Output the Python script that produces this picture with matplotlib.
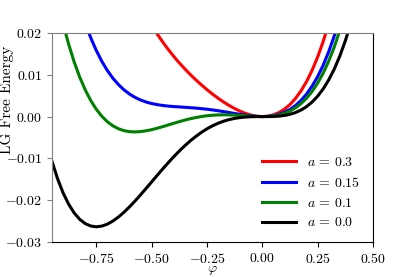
import matplotlib
matplotlib.use("Agg")
import matplotlib.pyplot as plt
from matplotlib.ticker import FuncFormatter

plt.rcParams['font.family'] = 'serif'
plt.rcParams['font.serif'] = ['cmr10', 'DejaVu Serif']
plt.rcParams['mathtext.fontset'] = 'cm'
plt.rcParams['axes.formatter.use_mathtext'] = True

# order parameter values
phi = [-0.95, -0.925, -0.9, -0.875, -0.85, -0.825, -0.8, -0.775, -0.75, -0.725,
       -0.7, -0.675, -0.65, -0.625, -0.6, -0.575, -0.55, -0.525, -0.5, -0.475,
       -0.45, -0.425, -0.4, -0.375, -0.35, -0.325, -0.3, -0.275, -0.25, -0.225,
       -0.2, -0.175, -0.15, -0.125, -0.1, -0.075, -0.05, -0.025, 0.0, 0.025,
       0.05, 0.075, 0.1, 0.125, 0.15, 0.175, 0.2, 0.225, 0.25, 0.275,
       0.3, 0.325, 0.35, 0.375, 0.4, 0.425, 0.45]

f_a03 = [0.12466, 0.11350, 0.10328, 0.09391, 0.08535, 0.07753, 0.07040, 0.06391, 0.05801, 0.05265,
         0.04778, 0.04336, 0.03935, 0.03571, 0.03240, 0.02940, 0.02666, 0.02416, 0.02188, 0.01978,
         0.01785, 0.01606, 0.01440, 0.01285, 0.01141, 0.01005, 0.00878, 0.00758, 0.00645, 0.00539,
         0.00440, 0.00349, 0.00266, 0.00192, 0.00128, 0.00075, 0.00035, 0.00009, 0.0, 0.00010,
         0.00041, 0.00096, 0.00178, 0.00289, 0.00435, 0.00617, 0.00840, 0.01108, 0.01426, 0.01797,
         0.02228, 0.02722, 0.03285, 0.03922, 0.04640, 0.05444, 0.06341]

f_a015 = [0.05697, 0.04933, 0.04253, 0.03649, 0.03116, 0.02648, 0.02240, 0.01886, 0.01582, 0.01322,
          0.01103, 0.00918, 0.00766, 0.00641, 0.00540, 0.00460, 0.00397, 0.00349, 0.00313, 0.00286,
          0.00266, 0.00251, 0.00240, 0.00231, 0.00222, 0.00213, 0.00203, 0.00190, 0.00176, 0.00159,
          0.00140, 0.00119, 0.00097, 0.00075, 0.00053, 0.00032, 0.00016, 0.00004, 0.0, 0.00005,
          0.00022, 0.00054, 0.00103, 0.00172, 0.00266, 0.00387, 0.00540, 0.00729, 0.00957, 0.01230,
          0.01553, 0.01929, 0.02366, 0.02867, 0.03440, 0.04090, 0.04822]

f_a01 = [0.03441, 0.02794, 0.02228, 0.01735, 0.01310, 0.00947, 0.00640, 0.00385, 0.00176, 0.00008,
         -0.00123, -0.00221, -0.00291, -0.00336, -0.00360, -0.00367, -0.00359, -0.00340, -0.00313, -0.00279,
         -0.00241, -0.00200, -0.00160, -0.00121, -0.00084, -0.00051, -0.00023, 0.00001, 0.00020, 0.00032,
         0.00040, 0.00043, 0.00041, 0.00035, 0.00028, 0.00018, 0.00010, 0.00003, 0.0, 0.00004,
         0.00016, 0.00039, 0.00078, 0.00133, 0.00210, 0.00311, 0.00440, 0.00602, 0.00801, 0.01041,
         0.01328, 0.01665, 0.02060, 0.02516, 0.03040, 0.03638, 0.04316]

f_a0 = [-0.01072, -0.01484, -0.01823, -0.02094, -0.02303, -0.02457, -0.02560, -0.02618, -0.02637, -0.02620,
        -0.02573, -0.02499, -0.02403, -0.02289, -0.02160, -0.02020, -0.01872, -0.01718, -0.01563, -0.01407,
        -0.01253, -0.01104, -0.00960, -0.00824, -0.00697, -0.00579, -0.00473, -0.00377, -0.00293, -0.00221,
        -0.00160, -0.00111, -0.00072, -0.00043, -0.00023, -0.00010, -0.00003, 0.0, 0.0, 0.0,
        0.00003, 0.00011, 0.00028, 0.00055, 0.00097, 0.00157, 0.00240, 0.00349, 0.00488, 0.00663,
        0.00878, 0.01137, 0.01447, 0.01813, 0.02240, 0.02735, 0.03303]

labels = [r'$a\,=\,0.3$', r'$a\,=\,0.15$', r'$a\,=\,0.1$', r'$a\,=\,0.0$']
colors = ['red', 'blue', 'green', 'black']

fig = plt.figure(figsize=(4.15, 2.77), dpi=100)
ax = fig.add_axes([0.1253, 0.1264, 0.7735, 0.7545])

for f, lab, c in zip([f_a03, f_a015, f_a01, f_a0], labels, colors):
    ax.plot(phi, f, color=c, lw=2.2, label=lab)

ax.set_xlim(-0.95, 0.5)
ax.set_ylim(-0.03, 0.02)
ax.set_xticks([-0.75, -0.5, -0.25, 0.0, 0.25, 0.5])
ax.set_yticks([-0.03, -0.02, -0.01, 0.0, 0.01, 0.02])
fmt = FuncFormatter(lambda v, p: ('$%.2f$' % v).replace('-0.00', '0.00'))
ax.xaxis.set_major_formatter(fmt)
ax.yaxis.set_major_formatter(fmt)
ax.tick_params(labelsize=10)

ax.spines['left'].set_color('gray')
ax.spines['top'].set_color('gray')
ax.tick_params(axis='y', color='gray')

ax.set_xlabel(r'$\varphi$', fontsize=10, labelpad=-1)
ax.set_ylabel('LG Free Energy', fontsize=11)
ax.yaxis.set_label_coords(-0.118, 0.68)

ax.legend(loc='lower right', frameon=False, fontsize=10, handlelength=2.5)

fig.savefig('out.png', dpi=100)
